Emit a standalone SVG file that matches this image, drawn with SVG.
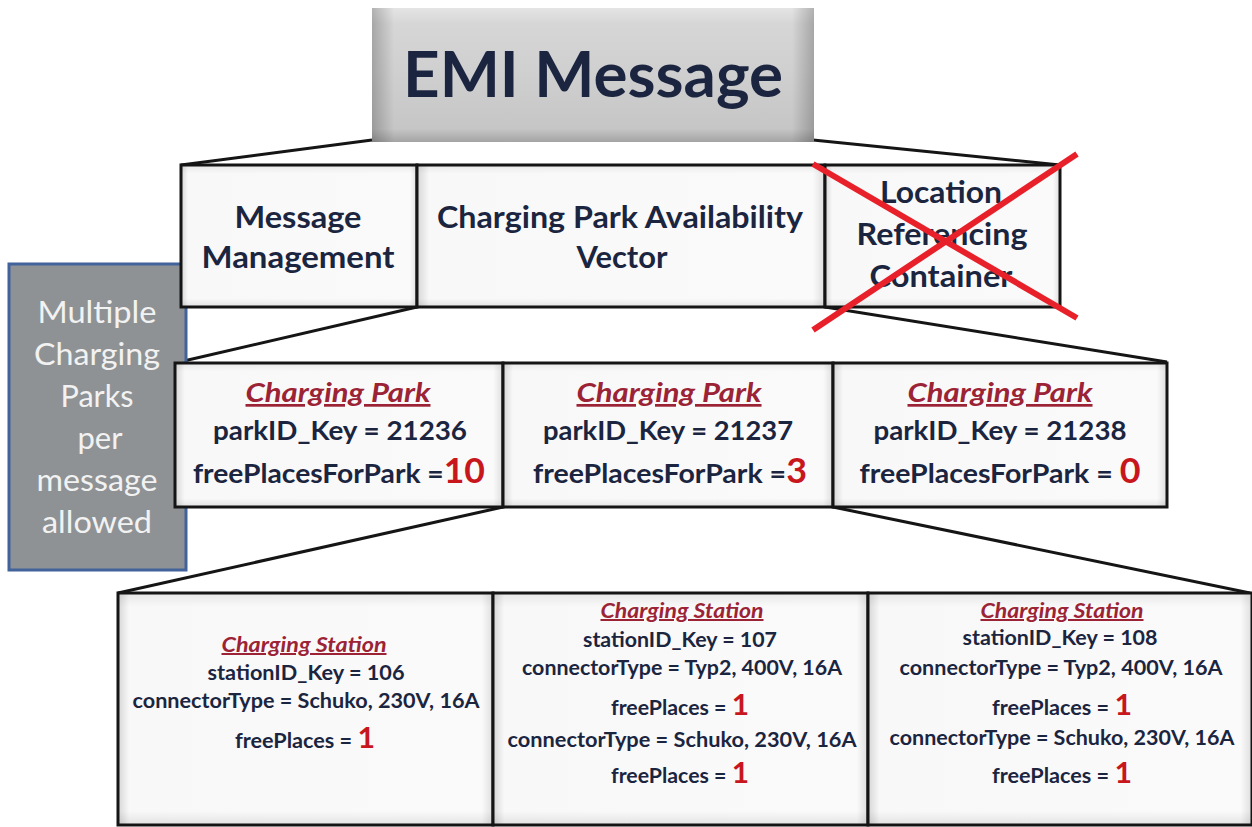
<svg xmlns="http://www.w3.org/2000/svg" width="1252" height="827" viewBox="0 0 1252 827">
<defs>
<linearGradient id="emiV" x1="0" y1="0" x2="0" y2="1">
<stop offset="0" stop-color="#e4e4e4"/><stop offset="0.12" stop-color="#d6d6d6"/><stop offset="0.5" stop-color="#cfcfcf"/><stop offset="0.9" stop-color="#c6c6c6"/><stop offset="1" stop-color="#a4a4a4"/>
</linearGradient>
<linearGradient id="emiH" x1="0" y1="0" x2="1" y2="0">
<stop offset="0" stop-color="#000" stop-opacity="0.22"/><stop offset="0.05" stop-color="#000" stop-opacity="0"/><stop offset="0.95" stop-color="#000" stop-opacity="0"/><stop offset="1" stop-color="#000" stop-opacity="0.22"/>
</linearGradient>
<linearGradient id="boxH" x1="0" y1="0" x2="1" y2="0">
<stop offset="0" stop-color="#d6d6d6"/><stop offset="0.03" stop-color="#f8f8f8"/><stop offset="0.97" stop-color="#fafafa"/><stop offset="1" stop-color="#dedede"/>
</linearGradient>
<linearGradient id="boxV" x1="0" y1="0" x2="0" y2="1">
<stop offset="0" stop-color="#000" stop-opacity="0.07"/><stop offset="0.06" stop-color="#000" stop-opacity="0"/><stop offset="0.94" stop-color="#000" stop-opacity="0"/><stop offset="1" stop-color="#000" stop-opacity="0.09"/>
</linearGradient>
<style>
.box{fill:url(#boxH);stroke:#151515;stroke-width:3}
.shade{fill:url(#boxV);stroke:none}
.conn line{stroke:#151515;stroke-width:3}
.t{font-family:Lato,"Liberation Sans",sans-serif;font-weight:bold;fill:#1c2540;text-anchor:middle}
.hd{font-family:Lato,"Liberation Sans",sans-serif;font-weight:bold;font-style:italic;fill:#9b2335;text-anchor:middle;text-decoration:underline}
.num{fill:#c8161d}
.side{font-family:Lato,"Open Sans",sans-serif;font-size:30px;fill:#f2f2f2;text-anchor:middle}
.x{stroke:#e8202a;stroke-width:6;stroke-linecap:butt}
</style>
</defs>
<rect width="1252" height="827" fill="#ffffff"/>

<g id="connectors" class="conn">
<line x1="372" y1="140" x2="181" y2="165"/>
<line x1="813" y1="140" x2="1060" y2="165"/>
<line x1="417" y1="307" x2="175" y2="363"/>
<line x1="825" y1="307" x2="1167" y2="362"/>
<line x1="503" y1="507" x2="118" y2="593"/>
<line x1="833" y1="507" x2="1250" y2="593"/>
</g>

<g id="multiple-parks-note">
<rect x="9" y="264" width="177" height="306" fill="#8f9295" stroke="#41629b" stroke-width="3"/>
<text class="side" x="97" y="323" textLength="119" lengthAdjust="spacingAndGlyphs">Multiple</text>
<text class="side" x="97" y="365" textLength="126" lengthAdjust="spacingAndGlyphs">Charging</text>
<text class="side" x="97" y="407" textLength="73" lengthAdjust="spacingAndGlyphs">Parks</text>
<text class="side" x="100" y="449" textLength="45" lengthAdjust="spacingAndGlyphs">per</text>
<text class="side" x="97" y="491" textLength="121" lengthAdjust="spacingAndGlyphs">message</text>
<text class="side" x="97" y="533" textLength="110" lengthAdjust="spacingAndGlyphs">allowed</text>
</g>

<g id="emi-message">
<rect x="372" y="8" width="442" height="134" fill="url(#emiV)"/>
<rect x="372" y="8" width="442" height="134" fill="url(#emiH)"/>
<text class="t" x="593" y="97" font-size="63" textLength="380" lengthAdjust="spacingAndGlyphs">EMI Message</text>
</g>

<g id="message-management">
<rect class="box" x="181" y="165" width="236" height="142"/>
<rect class="shade" x="181" y="165" width="236" height="142"/>
<text class="t" x="298" y="228" font-size="31" textLength="127" lengthAdjust="spacingAndGlyphs">Message</text>
<text class="t" x="298" y="268" font-size="31" textLength="193" lengthAdjust="spacingAndGlyphs">Management</text>
</g>

<g id="charging-park-availability-vector">
<rect class="box" x="417" y="165" width="408" height="142"/>
<rect class="shade" x="417" y="165" width="408" height="142"/>
<text class="t" x="620" y="228" font-size="31" textLength="366" lengthAdjust="spacingAndGlyphs">Charging Park Availability</text>
<text class="t" x="622" y="268" font-size="31" textLength="91" lengthAdjust="spacingAndGlyphs">Vector</text>
</g>

<g id="location-referencing-container">
<rect class="box" x="825" y="165" width="235" height="142"/>
<rect class="shade" x="825" y="165" width="235" height="142"/>
<text class="t" x="941" y="203" font-size="30" textLength="122" lengthAdjust="spacingAndGlyphs">Location</text>
<text class="t" x="942" y="245" font-size="30" textLength="171" lengthAdjust="spacingAndGlyphs">Referencing</text>
<text class="t" x="941" y="287" font-size="30" textLength="143" lengthAdjust="spacingAndGlyphs">Container</text>
<line class="x" x1="813" y1="164" x2="1077" y2="318"/>
<line class="x" x1="1077" y1="154" x2="813" y2="330"/>
</g>

<g id="charging-park-21236">
<rect class="box" x="175" y="363" width="328" height="144"/>
<rect class="shade" x="175" y="363" width="328" height="144"/>
<text class="hd" x="338" y="402" font-size="27" textLength="185" lengthAdjust="spacingAndGlyphs">Charging Park</text>
<text class="t" x="340" y="440" font-size="27" textLength="254" lengthAdjust="spacingAndGlyphs">parkID_Key = 21236</text>
<text class="t" x="339" y="483" font-size="27" textLength="292" lengthAdjust="spacingAndGlyphs">freePlacesForPark =<tspan class="num" font-size="34">10</tspan></text>
</g>

<g id="charging-park-21237">
<rect class="box" x="503" y="363" width="330" height="144"/>
<rect class="shade" x="503" y="363" width="330" height="144"/>
<text class="hd" x="669" y="402" font-size="27" textLength="185" lengthAdjust="spacingAndGlyphs">Charging Park</text>
<text class="t" x="668" y="440" font-size="27" textLength="250" lengthAdjust="spacingAndGlyphs">parkID_Key = 21237</text>
<text class="t" x="670" y="483" font-size="27" textLength="274" lengthAdjust="spacingAndGlyphs">freePlacesForPark =<tspan class="num" font-size="34">3</tspan></text>
</g>

<g id="charging-park-21238">
<rect class="box" x="833" y="363" width="334" height="144"/>
<rect class="shade" x="833" y="363" width="334" height="144"/>
<text class="hd" x="1000" y="402" font-size="27" textLength="185" lengthAdjust="spacingAndGlyphs">Charging Park</text>
<text class="t" x="1000" y="440" font-size="27" textLength="253" lengthAdjust="spacingAndGlyphs">parkID_Key = 21238</text>
<text class="t" x="1000" y="483" font-size="27" textLength="281" lengthAdjust="spacingAndGlyphs">freePlacesForPark = <tspan class="num" font-size="34">0</tspan></text>
</g>

<g id="charging-station-106">
<rect class="box" x="118" y="593" width="375" height="232"/>
<rect class="shade" x="118" y="593" width="375" height="232"/>
<text class="hd" x="304" y="652" font-size="20" textLength="165" lengthAdjust="spacingAndGlyphs">Charging Station</text>
<text class="t" x="306" y="680" font-size="20" textLength="197" lengthAdjust="spacingAndGlyphs">stationID_Key = 106</text>
<text class="t" x="306" y="708" font-size="20" textLength="347" lengthAdjust="spacingAndGlyphs">connectorType = Schuko, 230V, 16A</text>
<text class="t" x="305" y="748" font-size="20" textLength="140" lengthAdjust="spacingAndGlyphs">freePlaces = <tspan class="num" font-size="28">1</tspan></text>
</g>

<g id="charging-station-107">
<rect class="box" x="493" y="593" width="375" height="232"/>
<rect class="shade" x="493" y="593" width="375" height="232"/>
<text class="hd" x="682" y="618" font-size="20" textLength="163" lengthAdjust="spacingAndGlyphs">Charging Station</text>
<text class="t" x="680" y="647" font-size="20" textLength="194" lengthAdjust="spacingAndGlyphs">stationID_Key = 107</text>
<text class="t" x="682" y="675" font-size="20" textLength="320" lengthAdjust="spacingAndGlyphs">connectorType = Typ2, 400V, 16A</text>
<text class="t" x="680" y="715" font-size="20" textLength="138" lengthAdjust="spacingAndGlyphs">freePlaces = <tspan class="num" font-size="28">1</tspan></text>
<text class="t" x="682" y="747" font-size="20" textLength="349" lengthAdjust="spacingAndGlyphs">connectorType = Schuko, 230V, 16A</text>
<text class="t" x="680" y="783" font-size="20" textLength="138" lengthAdjust="spacingAndGlyphs">freePlaces = <tspan class="num" font-size="28">1</tspan></text>
</g>

<g id="charging-station-108">
<rect class="box" x="868" y="593" width="384" height="232"/>
<rect class="shade" x="868" y="593" width="384" height="232"/>
<text class="hd" x="1062" y="618" font-size="20" textLength="163" lengthAdjust="spacingAndGlyphs">Charging Station</text>
<text class="t" x="1060" y="645" font-size="20" textLength="195" lengthAdjust="spacingAndGlyphs">stationID_Key = 108</text>
<text class="t" x="1061" y="675" font-size="20" textLength="323" lengthAdjust="spacingAndGlyphs">connectorType = Typ2, 400V, 16A</text>
<text class="t" x="1062" y="715" font-size="20" textLength="140" lengthAdjust="spacingAndGlyphs">freePlaces = <tspan class="num" font-size="28">1</tspan></text>
<text class="t" x="1062" y="745" font-size="20" textLength="345" lengthAdjust="spacingAndGlyphs">connectorType = Schuko, 230V, 16A</text>
<text class="t" x="1062" y="783" font-size="20" textLength="140" lengthAdjust="spacingAndGlyphs">freePlaces = <tspan class="num" font-size="28">1</tspan></text>
</g>
</svg>
